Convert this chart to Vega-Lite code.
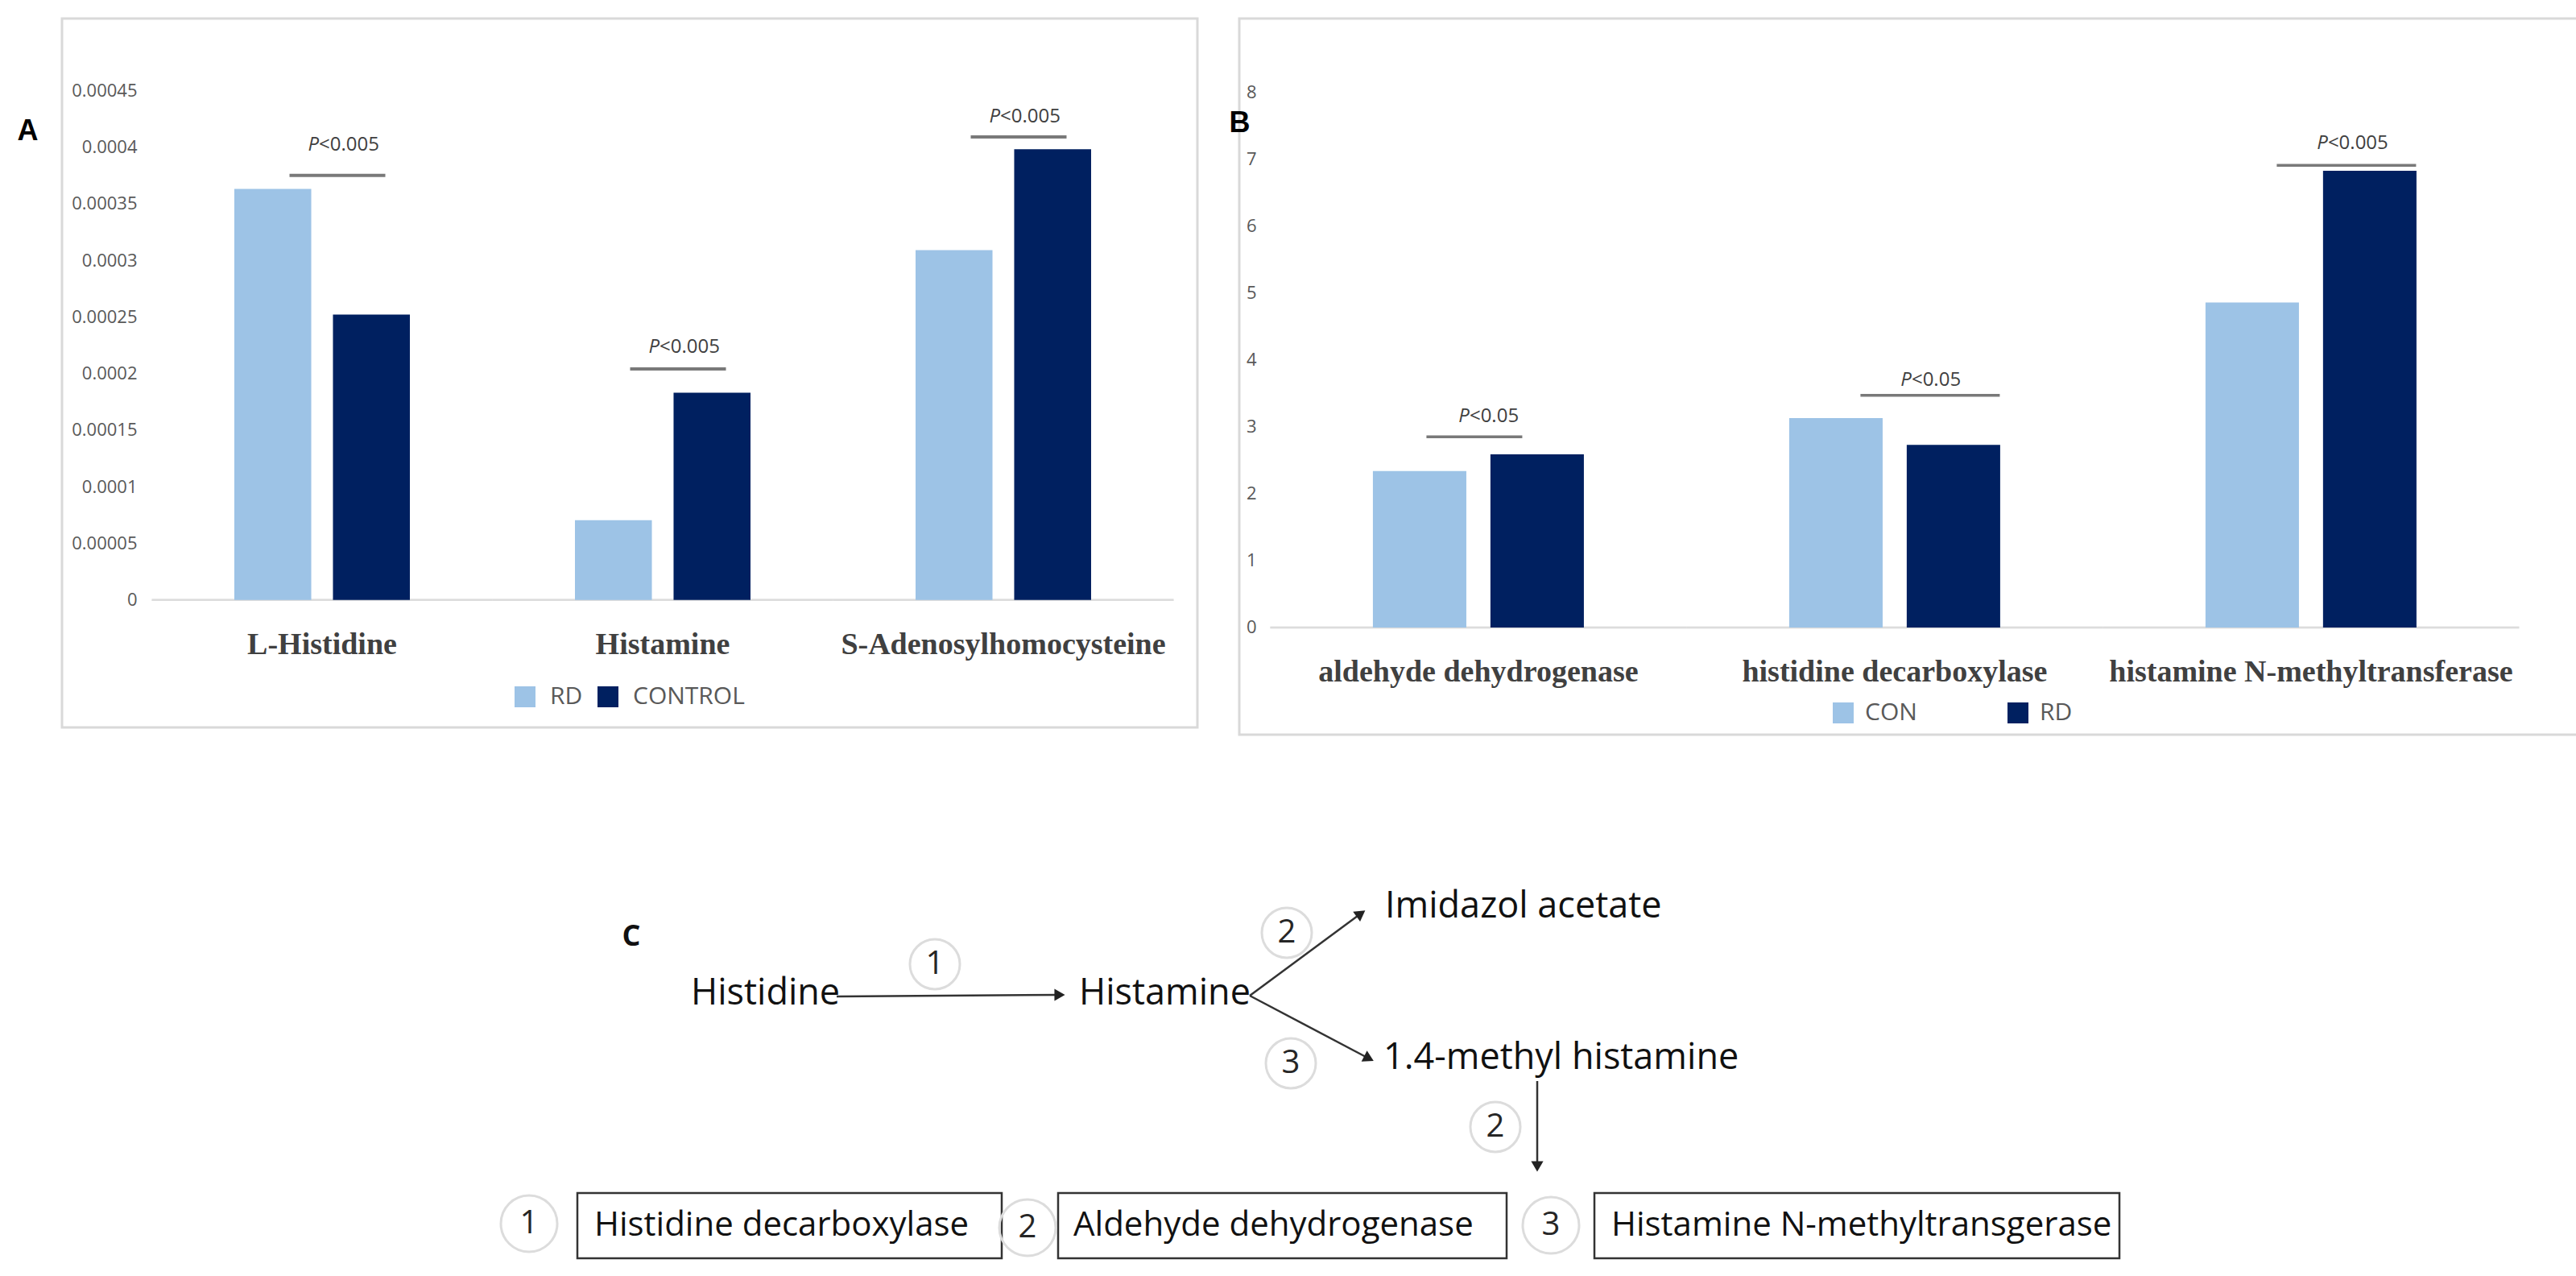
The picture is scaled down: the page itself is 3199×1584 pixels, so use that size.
{
  "$schema": "https://vega.github.io/schema/vega-lite/v6.json",
  "background": "white",
  "padding": {"left": 19, "top": 21, "right": 0, "bottom": 0},
  "spacing": 90,
  "config": {
    "view": {"stroke": "#d9d9d9", "strokeWidth": 3},
    "axis": {"grid": false, "domain": false, "ticks": false},
    "font": "Open Sans"
  },
  "resolve": {"scale": {"x": "independent", "y": "independent", "color": "independent"}},
  "vconcat": [
    {
      "spacing": 35,
      "resolve": {
        "scale": {"x": "independent", "y": "independent", "color": "independent", "xOffset": "independent"},
        "axis": {"x": "independent", "y": "independent"},
        "legend": {"color": "independent"}
      },
      "hconcat": [
        {
          "width": 1410,
          "height": 880,
          "data": {"values": [
            {"metabolite": "L-Histidine", "group": "RD", "value": 0.000363},
            {"metabolite": "L-Histidine", "group": "CONTROL", "value": 0.000252},
            {"metabolite": "Histamine", "group": "RD", "value": 0.0000705},
            {"metabolite": "Histamine", "group": "CONTROL", "value": 0.000183},
            {"metabolite": "S-Adenosylhomocysteine", "group": "RD", "value": 0.000309},
            {"metabolite": "S-Adenosylhomocysteine", "group": "CONTROL", "value": 0.000398}
          ]},
          "layer": [
            {
              "mark": {"type": "tick", "orient": "horizontal", "size": 423, "thickness": 2.5, "color": "#d9d9d9"},
              "encoding": {
                "x": {"field": "metabolite", "type": "nominal", "sort": null},
                "y": {"datum": 0, "type": "quantitative"}
              }
            },
            {
              "mark": {"type": "bar"},
              "encoding": {
                "x": {
                  "field": "metabolite", "type": "nominal", "sort": null,
                  "scale": {"domain": ["L-Histidine", "Histamine", "S-Adenosylhomocysteine"], "paddingInner": 0.4846, "paddingOuter": 0.409, "align": 0.6185},
                  "axis": {"title": null, "orient": "bottom", "offset": -105, "labelFont": "Liberation Serif", "labelFontSize": 38, "labelFontWeight": "bold", "labelColor": "#404040", "labelPadding": 2, "labelLimit": 1000, "labelAngle": 0, "labelAlign": "center", "labelOverlap": false}
                },
                "xOffset": {"field": "group", "type": "nominal", "scale": {"domain": ["RD", "CONTROL"], "paddingInner": 0.22, "paddingOuter": 0}},
                "y": {
                  "field": "value", "type": "quantitative",
                  "scale": {"domain": [-0.0001126, 0.0005135], "nice": false, "zero": false},
                  "axis": {"title": "A", "titleAngle": 0, "titleX": -154, "titleY": 139, "titleAlign": "center", "titleBaseline": "middle", "titleFont": "Liberation Sans", "titleFontSize": 36, "titleFontWeight": "bold", "titleColor": "#000000", "offset": -111, "values": [0, 0.00005, 0.0001, 0.00015, 0.0002, 0.00025, 0.0003, 0.00035, 0.0004, 0.00045], "format": "~g", "labelFont": "Open Sans", "labelFontSize": 22, "labelColor": "#595959", "labelPadding": 18}
                },
                "y2": {"datum": 0},
                "color": {
                  "field": "group", "type": "nominal",
                  "scale": {"domain": ["RD", "CONTROL"], "range": ["#9DC3E6", "#002060"]},
                  "legend": {"title": null, "orient": "none", "legendX": 560, "legendY": 827, "direction": "horizontal", "symbolType": "square", "symbolSize": 676, "symbolStrokeWidth": 0, "labelFont": "Open Sans", "labelFontSize": 30, "labelColor": "#595959", "labelOffset": 16, "columnPadding": 16, "padding": 0}
                }
              }
            },
            {
              "data": {"values": [
                {"metabolite": "L-Histidine", "line": 0.000375, "lab": 0.000402, "rest": "<0.005"},
                {"metabolite": "Histamine", "line": 0.000204, "lab": 0.000223, "rest": "<0.005"},
                {"metabolite": "S-Adenosylhomocysteine", "line": 0.000409, "lab": 0.000427, "rest": "<0.005"}
              ]},
              "layer": [
                {
                  "mark": {"type": "tick", "orient": "horizontal", "size": 119, "thickness": 4, "color": "#404040", "xOffset": 19},
                  "encoding": {
                    "x": {"field": "metabolite", "type": "nominal", "sort": null},
                    "y": {"field": "line", "type": "quantitative"}
                  }
                },
                {
                  "mark": {"type": "text", "align": "right", "baseline": "middle", "dx": -4, "font": "Open Sans", "fontStyle": "italic", "fontSize": 24, "color": "#404040"},
                  "encoding": {
                    "x": {"field": "metabolite", "type": "nominal", "sort": null},
                    "y": {"field": "lab", "type": "quantitative"},
                    "text": {"value": "P"}
                  }
                },
                {
                  "mark": {"type": "text", "align": "left", "baseline": "middle", "dx": -4, "font": "Open Sans", "fontSize": 24, "color": "#404040"},
                  "encoding": {
                    "x": {"field": "metabolite", "type": "nominal", "sort": null},
                    "y": {"field": "lab", "type": "quantitative"},
                    "text": {"field": "rest"}
                  }
                }
              ]
            }
          ]
        },
        {
          "width": 1668,
          "height": 889,
          "data": {"values": [
            {"enzyme": "aldehyde dehydrogenase", "group": "CON", "value": 2.34},
            {"enzyme": "aldehyde dehydrogenase", "group": "RD", "value": 2.59},
            {"enzyme": "histidine decarboxylase", "group": "CON", "value": 3.13},
            {"enzyme": "histidine decarboxylase", "group": "RD", "value": 2.73},
            {"enzyme": "histamine N-methyltransferase", "group": "CON", "value": 4.86},
            {"enzyme": "histamine N-methyltransferase", "group": "RD", "value": 6.83}
          ]},
          "layer": [
            {
              "mark": {"type": "tick", "orient": "horizontal", "size": 517, "thickness": 2.5, "color": "#d9d9d9"},
              "encoding": {
                "x": {"field": "enzyme", "type": "nominal", "sort": null},
                "y": {"datum": 0, "type": "quantitative"}
              }
            },
            {
              "mark": {"type": "bar"},
              "encoding": {
                "x": {
                  "field": "enzyme", "type": "nominal", "sort": null,
                  "scale": {"domain": ["aldehyde dehydrogenase", "histidine decarboxylase", "histamine N-methyltransferase"], "paddingInner": 0.4932, "paddingOuter": 0.3598, "align": 0.446},
                  "axis": {"title": null, "orient": "bottom", "offset": -79.5, "labelFont": "Liberation Serif", "labelFontSize": 38, "labelFontWeight": "bold", "labelColor": "#404040", "labelPadding": 2, "labelLimit": 1000, "labelAngle": 0, "labelAlign": "center", "labelOverlap": false}
                },
                "xOffset": {"field": "group", "type": "nominal", "scale": {"domain": ["CON", "RD"], "paddingInner": 0.205, "paddingOuter": 0}},
                "y": {
                  "field": "value", "type": "quantitative",
                  "scale": {"domain": [-1.602, 9.105], "nice": false, "zero": false},
                  "axis": {"title": "B", "titleAngle": 0, "titleX": -40, "titleY": 129, "titleAlign": "center", "titleBaseline": "middle", "titleFont": "Liberation Sans", "titleFontSize": 36, "titleFontWeight": "bold", "titleColor": "#000000", "offset": -40, "values": [0, 1, 2, 3, 4, 5, 6, 7, 8], "format": "d", "labelFont": "Open Sans", "labelFontSize": 22, "labelColor": "#595959", "labelPadding": 19}
                },
                "y2": {"datum": 0},
                "color": {
                  "field": "group", "type": "nominal",
                  "scale": {"domain": ["CON", "RD"], "range": ["#9DC3E6", "#002060"]},
                  "legend": {"title": null, "orient": "none", "legendX": 735, "legendY": 847, "direction": "horizontal", "symbolType": "square", "symbolSize": 676, "symbolStrokeWidth": 0, "labelFont": "Open Sans", "labelFontSize": 30, "labelColor": "#595959", "labelOffset": 12, "columnPadding": 110, "padding": 0}
                }
              }
            },
            {
              "data": {"values": [
                {"enzyme": "aldehyde dehydrogenase", "line": 2.85, "lab": 3.15, "rest": "<0.05"}
              ]},
              "layer": [
                {
                  "mark": {"type": "tick", "orient": "horizontal", "size": 119, "thickness": 3.5, "color": "#404040", "xOffset": -5},
                  "encoding": {
                    "x": {"field": "enzyme", "type": "nominal", "sort": null},
                    "y": {"field": "line", "type": "quantitative"}
                  }
                },
                {
                  "mark": {"type": "text", "align": "right", "baseline": "middle", "dx": -11, "font": "Open Sans", "fontStyle": "italic", "fontSize": 24, "color": "#404040"},
                  "encoding": {
                    "x": {"field": "enzyme", "type": "nominal", "sort": null},
                    "y": {"field": "lab", "type": "quantitative"},
                    "text": {"value": "P"}
                  }
                },
                {
                  "mark": {"type": "text", "align": "left", "baseline": "middle", "dx": -11, "font": "Open Sans", "fontSize": 24, "color": "#404040"},
                  "encoding": {
                    "x": {"field": "enzyme", "type": "nominal", "sort": null},
                    "y": {"field": "lab", "type": "quantitative"},
                    "text": {"field": "rest"}
                  }
                }
              ]
            },
            {
              "data": {"values": [
                {"enzyme": "histidine decarboxylase", "line": 3.47, "lab": 3.7, "rest": "<0.05"},
                {"enzyme": "histamine N-methyltransferase", "line": 6.91, "lab": 7.24, "rest": "<0.005"}
              ]},
              "layer": [
                {
                  "mark": {"type": "tick", "orient": "horizontal", "size": 173, "thickness": 3.5, "color": "#404040", "xOffset": 44},
                  "encoding": {
                    "x": {"field": "enzyme", "type": "nominal", "sort": null},
                    "y": {"field": "line", "type": "quantitative"}
                  }
                },
                {
                  "mark": {"type": "text", "align": "right", "baseline": "middle", "dx": 21, "font": "Open Sans", "fontStyle": "italic", "fontSize": 24, "color": "#404040"},
                  "encoding": {
                    "x": {"field": "enzyme", "type": "nominal", "sort": null},
                    "y": {"field": "lab", "type": "quantitative"},
                    "text": {"value": "P"}
                  }
                },
                {
                  "mark": {"type": "text", "align": "left", "baseline": "middle", "dx": 21, "font": "Open Sans", "fontSize": 24, "color": "#404040"},
                  "encoding": {
                    "x": {"field": "enzyme", "type": "nominal", "sort": null},
                    "y": {"field": "lab", "type": "quantitative"},
                    "text": {"field": "rest"}
                  }
                }
              ]
            }
          ]
        }
      ]
    },
    {
      "width": 3160,
      "height": 570,
      "view": {"stroke": null},
      "layer": [
        {
          "data": {"values": [
            {"enzyme": "Histidine decarboxylase", "left": 717, "right": 1244, "top": 1477, "bottom": 1558},
            {"enzyme": "Aldehyde dehydrogenase", "left": 1314, "right": 1871, "top": 1477, "bottom": 1558},
            {"enzyme": "Histamine N-methyltransgerase", "left": 1980, "right": 2632, "top": 1477, "bottom": 1558}
          ]},
          "mark": {"type": "rect", "fill": "white", "stroke": "#333333", "strokeWidth": 2.5},
          "encoding": {
            "x": {"field": "left", "type": "quantitative", "scale": {"domain": [77, 3237], "nice": false, "zero": false}, "axis": null},
            "x2": {"field": "right"},
            "y": {"field": "top", "type": "quantitative", "scale": {"domain": [1000, 1570], "nice": false, "zero": false, "reverse": true}, "axis": null},
            "y2": {"field": "bottom"}
          }
        },
        {
          "data": {"values": [
            {"from": "Histidine", "to": "Histamine", "x1": 1039, "y1": 1233, "x2": 1316, "y2": 1231},
            {"from": "Histamine", "to": "Imidazol acetate", "x1": 1552, "y1": 1232, "x2": 1690, "y2": 1130},
            {"from": "Histamine", "to": "1.4-methyl histamine", "x1": 1552, "y1": 1232, "x2": 1700, "y2": 1310},
            {"from": "1.4-methyl histamine", "to": "Histamine N-methyltransgerase", "x1": 1909, "y1": 1338, "x2": 1909, "y2": 1444}
          ]},
          "mark": {"type": "rule", "color": "#333333", "strokeWidth": 2.5},
          "encoding": {
            "x": {"field": "x1", "type": "quantitative", "scale": {"domain": [77, 3237], "nice": false, "zero": false}, "axis": null},
            "y": {"field": "y1", "type": "quantitative", "scale": {"domain": [1000, 1570], "nice": false, "zero": false, "reverse": true}, "axis": null},
            "x2": {"field": "x2"},
            "y2": {"field": "y2"}
          }
        },
        {
          "data": {"values": [
            {"to": "Histamine", "x": 1316, "y": 1231, "heading": 90},
            {"to": "Imidazol acetate", "x": 1690, "y": 1130, "heading": 54.5},
            {"to": "1.4-methyl histamine", "x": 1700, "y": 1310, "heading": 117},
            {"to": "Histamine N-methyltransgerase", "x": 1909, "y": 1444, "heading": 180}
          ]},
          "mark": {"type": "point", "shape": "triangle-up", "filled": true, "size": 230, "color": "#222222", "opacity": 1},
          "encoding": {
            "x": {"field": "x", "type": "quantitative", "scale": {"domain": [77, 3237], "nice": false, "zero": false}, "axis": null},
            "y": {"field": "y", "type": "quantitative", "scale": {"domain": [1000, 1570], "nice": false, "zero": false, "reverse": true}, "axis": null},
            "angle": {"field": "heading", "type": "quantitative", "scale": {"domain": [0, 360], "range": [0, 360]}}
          }
        },
        {
          "data": {"values": [
            {"step": "1", "x": 1161, "y": 1193},
            {"step": "2", "x": 1598, "y": 1154},
            {"step": "3", "x": 1603, "y": 1316},
            {"step": "2", "x": 1857, "y": 1395}
          ]},
          "layer": [
            {
              "mark": {"type": "point", "shape": "circle", "filled": false, "size": 3848, "color": "#dcdcdc", "strokeWidth": 3, "opacity": 1},
              "encoding": {
                "x": {"field": "x", "type": "quantitative", "scale": {"domain": [77, 3237], "nice": false, "zero": false}, "axis": null},
                "y": {"field": "y", "type": "quantitative", "scale": {"domain": [1000, 1570], "nice": false, "zero": false, "reverse": true}, "axis": null}
              }
            },
            {
              "mark": {"type": "text", "align": "center", "baseline": "middle", "font": "Open Sans", "fontSize": 40, "color": "#262626"},
              "encoding": {
                "x": {"field": "x", "type": "quantitative", "scale": {"domain": [77, 3237], "nice": false, "zero": false}, "axis": null},
                "y": {"field": "y", "type": "quantitative", "scale": {"domain": [1000, 1570], "nice": false, "zero": false, "reverse": true}, "axis": null},
                "text": {"field": "step"}
              }
            }
          ]
        },
        {
          "data": {"values": [
            {"step": "1", "x": 657, "y": 1515},
            {"step": "2", "x": 1276, "y": 1520},
            {"step": "3", "x": 1926, "y": 1517}
          ]},
          "layer": [
            {
              "mark": {"type": "point", "shape": "circle", "filled": false, "size": 4900, "color": "#dcdcdc", "strokeWidth": 3, "opacity": 1},
              "encoding": {
                "x": {"field": "x", "type": "quantitative", "scale": {"domain": [77, 3237], "nice": false, "zero": false}, "axis": null},
                "y": {"field": "y", "type": "quantitative", "scale": {"domain": [1000, 1570], "nice": false, "zero": false, "reverse": true}, "axis": null}
              }
            },
            {
              "mark": {"type": "text", "align": "center", "baseline": "middle", "font": "Open Sans", "fontSize": 40, "color": "#262626"},
              "encoding": {
                "x": {"field": "x", "type": "quantitative", "scale": {"domain": [77, 3237], "nice": false, "zero": false}, "axis": null},
                "y": {"field": "y", "type": "quantitative", "scale": {"domain": [1000, 1570], "nice": false, "zero": false, "reverse": true}, "axis": null},
                "text": {"field": "step"}
              }
            }
          ]
        },
        {
          "data": {"values": [
            {"label": "Histidine", "x": 858, "y": 1229},
            {"label": "Histamine", "x": 1340, "y": 1229},
            {"label": "Imidazol acetate", "x": 1720, "y": 1121},
            {"label": "1.4-methyl histamine", "x": 1718, "y": 1309}
          ]},
          "mark": {"type": "text", "align": "left", "baseline": "middle", "font": "Open Sans", "fontSize": 45, "color": "#111111"},
          "encoding": {
            "x": {"field": "x", "type": "quantitative", "scale": {"domain": [77, 3237], "nice": false, "zero": false}, "axis": null},
            "y": {"field": "y", "type": "quantitative", "scale": {"domain": [1000, 1570], "nice": false, "zero": false, "reverse": true}, "axis": null},
            "text": {"field": "label"}
          }
        },
        {
          "data": {"values": [
            {"label": "Histidine decarboxylase", "x": 738, "y": 1517},
            {"label": "Aldehyde dehydrogenase", "x": 1333, "y": 1517},
            {"label": "Histamine N-methyltransgerase", "x": 2001, "y": 1517}
          ]},
          "mark": {"type": "text", "align": "left", "baseline": "middle", "font": "Open Sans", "fontSize": 42, "color": "#111111"},
          "encoding": {
            "x": {"field": "x", "type": "quantitative", "scale": {"domain": [77, 3237], "nice": false, "zero": false}, "axis": null},
            "y": {"field": "y", "type": "quantitative", "scale": {"domain": [1000, 1570], "nice": false, "zero": false, "reverse": true}, "axis": null},
            "text": {"field": "label"}
          }
        },
        {
          "data": {"values": [{"label": "C", "x": 784, "y": 1159}]},
          "mark": {"type": "text", "align": "center", "baseline": "middle", "font": "Open Sans", "fontSize": 36, "fontWeight": "bold", "color": "#111111"},
          "encoding": {
            "x": {"field": "x", "type": "quantitative", "scale": {"domain": [77, 3237], "nice": false, "zero": false}, "axis": null},
            "y": {"field": "y", "type": "quantitative", "scale": {"domain": [1000, 1570], "nice": false, "zero": false, "reverse": true}, "axis": null},
            "text": {"field": "label"}
          }
        }
      ]
    }
  ]
}
